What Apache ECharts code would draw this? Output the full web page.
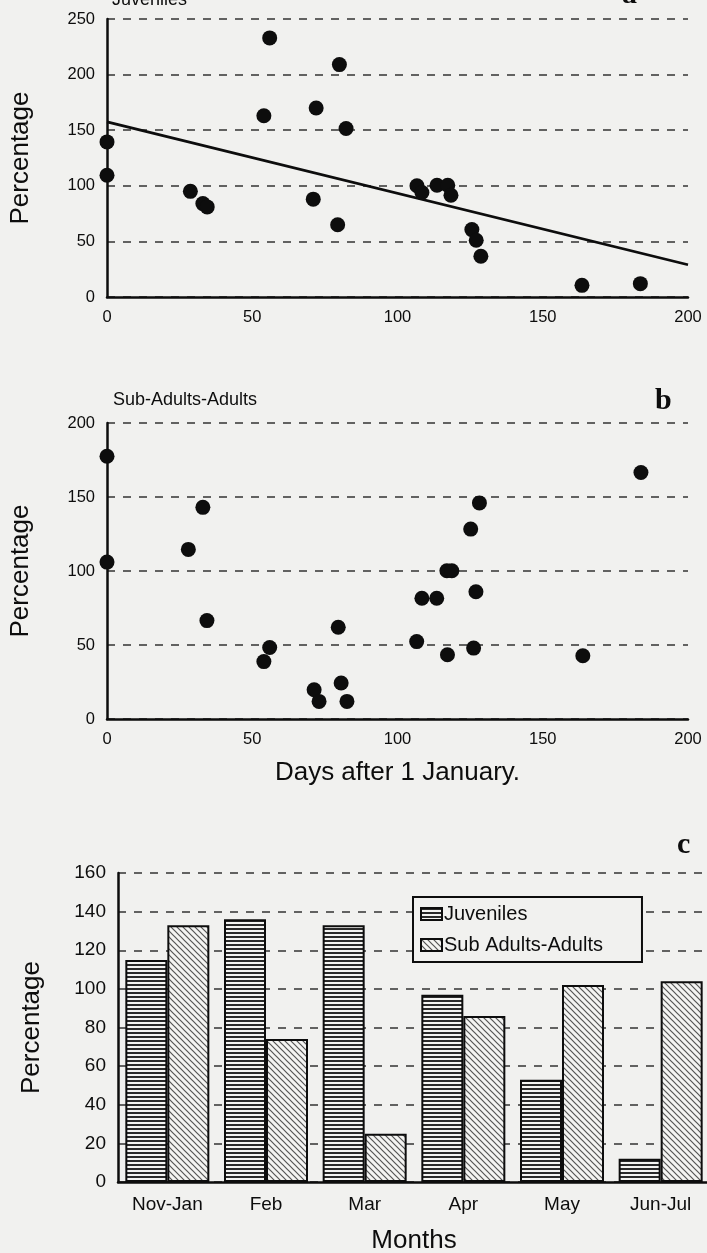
<!DOCTYPE html>
<html>
<head>
<meta charset="utf-8">
<script src="https://cdn.jsdelivr.net/npm/echarts@6/dist/echarts.min.js"></script>
<style>
html,body{margin:0;padding:0;background:#f1f1ef;}
#chart{width:707px;height:1253px;}
</style>
</head>
<body>
<div id="chart"></div>
<script>
// ---- Data ----
const juvDays = [0, 0, 28.7, 33, 34.5, 54, 56, 71, 72, 79.4, 80, 82.3, 106.7, 108.4, 113.6, 117.3, 118.4, 125.6, 127.1, 128.7, 163.5, 183.6];
const juvPct  = [139.5, 109.5, 95, 84, 81, 163, 233, 88, 170, 65, 209, 151.5, 100, 94, 100.5, 100.5, 91.5, 60.6, 51, 36.6, 10.5, 12];
const trendDays = [0, 200];
const trendPct  = [157.5, 29];

const saDays = [0, 0, 28, 33, 34.4, 54, 56, 71.3, 73, 79.6, 80.6, 82.6, 106.6, 108.4, 113.5, 117, 118.7, 117.2, 125.2, 126.2, 127, 128.2, 163.8, 183.8];
const saPct  = [177.5, 106, 114.6, 143, 66.5, 38.8, 48.3, 19.8, 11.9, 62, 24.3, 11.9, 52.3, 81.6, 81.6, 100.2, 100.2, 43.4, 128.3, 47.9, 86, 146, 42.7, 166.6];

const months = ['Nov-Jan', 'Feb', 'Mar', 'Apr', 'May', 'Jun-Jul'];
const juvBar = [115, 136, 133, 97, 53, 12];
const saBar  = [133, 74, 25, 86, 102, 104];

// ---- Styles ----
const BG = '#f1f1ef';
const FONT = "'Liberation Sans', Arial, Helvetica, sans-serif";
const SERIF = "'Liberation Serif', 'Times New Roman', serif";
const INK = '#0d0d0d';

function hPattern() {
  const c = document.createElement('canvas');
  c.width = 8; c.height = 4;
  const g = c.getContext('2d');
  g.fillStyle = '#f4f4f2'; g.fillRect(0, 0, 8, 4);
  g.fillStyle = '#2a2a2a'; g.fillRect(0, 0, 8, 2);
  return c;
}
function dPattern() {
  const c = document.createElement('canvas');
  c.width = 6; c.height = 6;
  const g = c.getContext('2d');
  g.fillStyle = '#f4f4f2'; g.fillRect(0, 0, 6, 6);
  g.strokeStyle = '#555'; g.lineWidth = 1.2;
  g.beginPath();
  g.moveTo(-1, -1); g.lineTo(7, 7);
  g.moveTo(5, -1); g.lineTo(7, 1);
  g.moveTo(-1, 5); g.lineTo(1, 7);
  g.stroke();
  return c;
}

const pts = (xs, ys) => xs.map((x, i) => [x, ys[i]]);

const dashed = { show: true, lineStyle: { type: [8, 8], color: '#333', width: 1.5 } };
const axisLine = { show: true, onZero: false, lineStyle: { color: INK, width: 2.5 } };
const tickLbl = { color: INK, fontFamily: FONT, fontSize: 16.5, margin: 12 };
const nameStyle = { color: INK, fontFamily: FONT, fontSize: 26 };

const chart = echarts.init(document.getElementById('chart'), null, { renderer: 'canvas' });

const option = {
  backgroundColor: BG,
  animation: false,
  grid: [
    { left: 107, right: 19, top: 19, bottom: 956, outerBoundsMode: 'none' },
    { left: 107, right: 19, top: 423, bottom: 534, outerBoundsMode: 'none' },
    { left: 118, width: 592, top: 873, bottom: 71, outerBoundsMode: 'none' }
  ],
  xAxis: [
    { type: 'value', gridIndex: 0, min: 0, max: 200, interval: 50,
      axisLine: axisLine, axisTick: { show: false }, splitLine: { show: false },
      axisLabel: tickLbl },
    { type: 'value', gridIndex: 1, min: 0, max: 200, interval: 50,
      axisLine: axisLine, axisTick: { show: false }, splitLine: { show: false },
      axisLabel: tickLbl,
      name: 'Days after 1 January.', nameLocation: 'middle', nameGap: 41, nameTextStyle: nameStyle },
    { type: 'category', gridIndex: 2, data: months,
      axisLine: { show: true, lineStyle: { color: INK, width: 2.5 } }, axisTick: { show: false },
      axisLabel: { color: INK, fontFamily: FONT, fontSize: 19, margin: 13 },
      name: 'Months', nameLocation: 'middle', nameGap: 46, nameTextStyle: nameStyle }
  ],
  yAxis: [
    { type: 'value', gridIndex: 0, min: 0, max: 250, interval: 50,
      axisLine: axisLine, axisTick: { show: false }, splitLine: dashed,
      axisLabel: tickLbl,
      name: 'Percentage', nameLocation: 'middle', nameRotate: 90, nameGap: 73, nameTextStyle: nameStyle },
    { type: 'value', gridIndex: 1, min: 0, max: 200, interval: 50,
      axisLine: axisLine, axisTick: { show: false }, splitLine: dashed,
      axisLabel: tickLbl,
      name: 'Percentage', nameLocation: 'middle', nameRotate: 90, nameGap: 73, nameTextStyle: nameStyle },
    { type: 'value', gridIndex: 2, min: 0, max: 160, interval: 20,
      axisLine: { show: true, lineStyle: { color: INK, width: 2.5 } }, axisTick: { show: false }, splitLine: dashed,
      axisLabel: { color: INK, fontFamily: FONT, fontSize: 19, margin: 12 },
      name: 'Percentage', nameLocation: 'middle', nameRotate: 90, nameGap: 73, nameTextStyle: nameStyle }
  ],
  legend: {
    data: ['Juveniles', 'Sub Adults-Adults'],
    orient: 'vertical',
    left: 413, top: 897,
    padding: [6, 39, 6, 7],
    itemGap: 9,
    itemWidth: 21, itemHeight: 12,
    icon: 'rect',
    backgroundColor: BG,
    borderColor: INK, borderWidth: 2,
    textStyle: { color: INK, fontFamily: FONT, fontSize: 20, lineHeight: 22, padding: [0, 0, 0, -3] }
  },
  series: [
    { type: 'scatter', xAxisIndex: 0, yAxisIndex: 0, data: pts(juvDays, juvPct),
      symbolSize: 15, clip: false, itemStyle: { color: INK, opacity: 1 }, z: 5 },
    { type: 'line', xAxisIndex: 0, yAxisIndex: 0, data: pts(trendDays, trendPct),
      symbol: 'none', clip: false, lineStyle: { color: INK, width: 2.8 }, z: 4 },
    { type: 'scatter', xAxisIndex: 1, yAxisIndex: 1, data: pts(saDays, saPct),
      symbolSize: 15, clip: false, itemStyle: { color: INK, opacity: 1 }, z: 5 },
    { name: 'Juveniles', type: 'bar', xAxisIndex: 2, yAxisIndex: 2, data: juvBar,
      barWidth: 42, barGap: '0%',
      itemStyle: { color: { image: hPattern(), repeat: 'repeat' }, borderColor: INK, borderWidth: 2 } },
    { name: 'Sub Adults-Adults', type: 'bar', xAxisIndex: 2, yAxisIndex: 2, data: saBar,
      barWidth: 42, barGap: '0%',
      itemStyle: { color: { image: dPattern(), repeat: 'repeat' }, borderColor: INK, borderWidth: 2 } }
  ],
  graphic: [
    { type: 'text', left: 112, top: -9, style: { text: 'Juveniles', fill: INK, font: "18px " + FONT } },
    { type: 'text', left: 622, top: -20, style: { text: 'a', fill: INK, font: "bold 30px " + SERIF } },
    { type: 'text', left: 113, top: 391, style: { text: 'Sub-Adults-Adults', fill: INK, font: "18px " + FONT } },
    { type: 'text', left: 655, top: 386, style: { text: 'b', fill: INK, font: "bold 30px " + SERIF } },
    { type: 'text', left: 677, top: 830, style: { text: 'c', fill: INK, font: "bold 30px " + SERIF } }
  ]
};

chart.setOption(option);
</script>
</body>
</html>
